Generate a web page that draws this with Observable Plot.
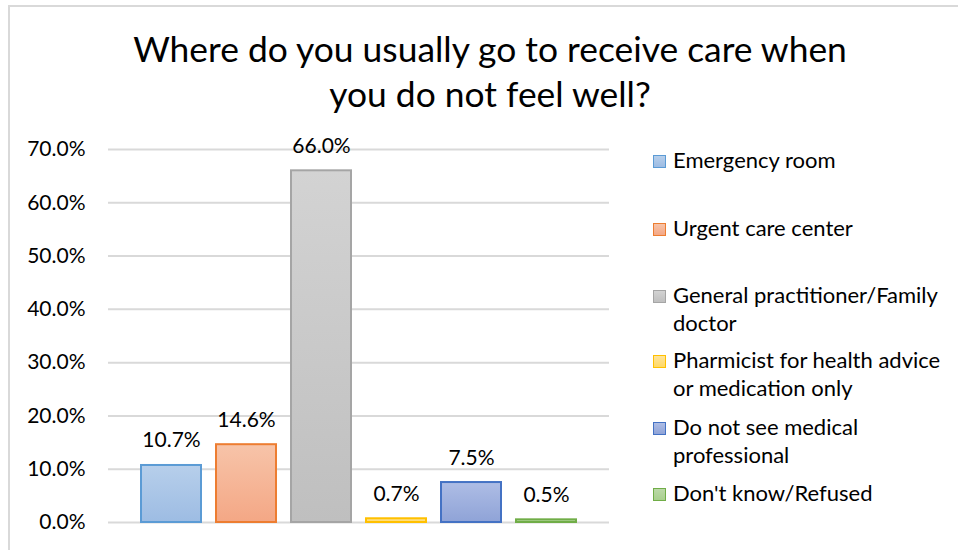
<!DOCTYPE html>
<html><head><meta charset="utf-8">
<script src="https://cdn.jsdelivr.net/npm/d3@7"></script>
<script src="https://cdn.jsdelivr.net/npm/@observablehq/plot@0.6"></script>
<style>
body{margin:0;background:#fff;font-family:Lato,"Open Sans",sans-serif;color:#000}
#wrap{position:relative;width:958px;height:550px;overflow:hidden;background:#fff}
#frame{position:absolute;left:8px;top:5px;width:960px;height:560px;border-left:2px solid #d9d9d9;border-top:2px solid #d9d9d9;box-sizing:border-box}
#title{position:absolute;left:90px;width:800px;top:26px;text-align:center;font-size:35.4px;line-height:45px;white-space:pre}
#chart{position:absolute;left:0;top:0}
.leg{position:absolute;left:673px;font-size:22px;line-height:28px;white-space:pre}
.sw{position:absolute;left:653px;width:11px;height:11px;border:1.5px solid}
</style></head><body>
<div id="wrap"><div id="frame"></div><div id="chart"></div>
<div id="title"></div></div>
<script>
const titleLines = ["Where do you usually go to receive care when", "you do not feel well?"];
const categories = ["Emergency room","Urgent care center","General practitioner/Family doctor","Pharmicist for health advice or medication only","Do not see medical professional","Don't know/Refused"];
const values = [0.107, 0.146, 0.660, 0.007, 0.075, 0.005];
const legendLabels = ["Emergency room","Urgent care center","General practitioner/Family\ndoctor","Pharmicist for health advice\nor medication only","Do not see medical\nprofessional","Don't know/Refused"];
const strokeColors = ["#5b9bd5","#ed7d31","#a5a5a5","#ffc000","#4472c4","#70ad47"];
const fillTop = ["#b7cfeb","#f7c4a9","#d3d3d3","#ffe49a","#aebde5","#bcd9a8"];
const fillBottom = ["#9dbce3","#f4a785","#bfbfbf","#ffd966","#8fa3d7","#a9d08e"];
const yTicks = [0, 0.1, 0.2, 0.3, 0.4, 0.5, 0.6, 0.7];
const legendTops = [146, 214, 281, 346, 413, 479];

document.getElementById("title").textContent = titleLines.join("\n");

const data = categories.map((c, i) => ({category: c, value: values[i], i}));
const pct = d => (d * 100).toFixed(1) + "%";

const chart = Plot.plot({
  width: 958, height: 550,
  marginTop: 149, marginBottom: 28, marginLeft: 108, marginRight: 349,
  style: {fontFamily: "Lato, sans-serif", fontSize: "21px", color: "#000", background: "transparent"},
  x: {domain: categories, axis: null, paddingInner: 0.2, paddingOuter: 0.4},
  y: {domain: [0, 0.7]},
  color: {type: "identity"},
  marks: [
    Plot.gridY(yTicks, {stroke: "#d9d9d9", strokeOpacity: 1, strokeWidth: 2}),
    Plot.axisY(yTicks, {tickSize: 0, tickPadding: 23, tickFormat: pct, fontSize: 21, label: null, fill: "#000"}),
    Plot.barY(data, {x: "category", y: "value", fill: d => `url(#grad${d.i})`, stroke: d => strokeColors[d.i], strokeWidth: 2}),
    Plot.text(data, {x: "category", y: "value", text: d => pct(d.value), lineAnchor: "bottom", dy: -18, fontSize: 21, fill: "#000"})
  ]
});

const svg = d3.select(chart);
const defs = svg.insert("defs", ":first-child");
categories.forEach((c, i) => {
  const g = defs.append("linearGradient").attr("id", "grad" + i).attr("x1", 0).attr("y1", 0).attr("x2", 0).attr("y2", 1);
  g.append("stop").attr("offset", "0%").attr("stop-color", fillTop[i]);
  g.append("stop").attr("offset", "100%").attr("stop-color", fillBottom[i]);
});
document.getElementById("chart").appendChild(chart);

const wrap = document.getElementById("wrap");
legendLabels.forEach((l, i) => {
  const t = document.createElement("div");
  t.className = "leg"; t.style.top = legendTops[i] + "px"; t.textContent = l;
  wrap.appendChild(t);
  const s = document.createElement("div");
  s.className = "sw"; s.style.top = (legendTops[i] + 9) + "px";
  s.style.borderColor = strokeColors[i];
  s.style.background = `linear-gradient(${fillTop[i]}, ${fillBottom[i]})`;
  wrap.appendChild(s);
});
</script></body></html>
